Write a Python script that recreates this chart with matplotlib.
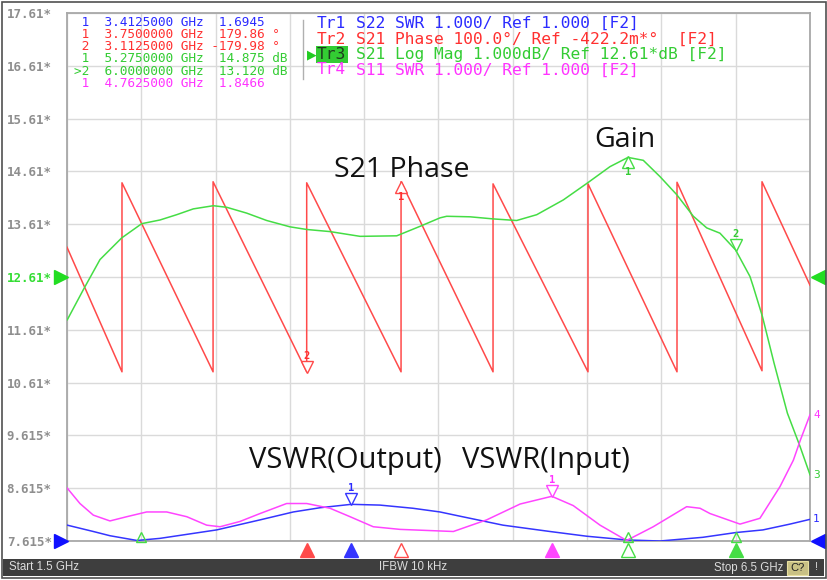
import matplotlib
matplotlib.use("Agg")
import matplotlib.pyplot as plt
from matplotlib.patches import Rectangle
from matplotlib.transforms import offset_copy, blended_transform_factory

# ---------------- data ----------------
f_start, f_stop = 1.5, 6.5
ytick_labels = ["7.615*", "8.615*", "9.615*", "10.61*", "11.61*", "12.61*",
                "13.61*", "14.61*", "15.61*", "16.61*", "17.61*"]

# Tr3 S21 Log Mag (dB)
gain_f = [1.502, 1.610, 1.722, 1.868, 2.003, 2.126, 2.238, 2.350, 2.485, 2.575,
          2.709, 2.844, 3.001, 3.113, 3.270, 3.472, 3.719, 3.876, 4.010, 4.055,
          4.212, 4.369, 4.526, 4.661, 4.840, 4.997, 5.154, 5.275, 5.378, 5.491,
          5.603, 5.715, 5.805, 5.894, 6.000, 6.096, 6.118, 6.180, 6.258, 6.348,
          6.433, 6.500]
gain_db = [11.80, 12.37, 12.94, 13.35, 13.62, 13.69, 13.79, 13.90, 13.96, 13.93,
           13.82, 13.68, 13.56, 13.51, 13.47, 13.38, 13.39, 13.57, 13.73, 13.76,
           13.75, 13.71, 13.68, 13.79, 14.07, 14.38, 14.70, 14.875, 14.82, 14.51,
           14.17, 13.76, 13.54, 13.44, 13.12, 12.62, 12.43, 11.86, 10.98, 10.03,
           9.40, 8.865]

# Tr2 S21 Phase (deg), wrapped sawtooth breakpoints
phase_f = [1.500, 1.870, 1.870, 2.483, 2.483, 3.113, 3.113, 3.748, 3.748,
           4.367, 4.367, 5.006, 5.006, 5.605, 5.605, 6.177, 6.177, 6.500]
phase_deg = [56, -180, 178, -180, 180, -180, 178, -180, 180,
             -180, 176, -180, 176, -180, 179, -178, 180, -16]

# Tr1 S22 SWR (output)
swr_out_f = [1.502, 1.677, 1.789, 1.971, 2.126, 2.507, 2.799, 3.023, 3.203, 3.4125,
             3.606, 3.828, 4.010, 4.144, 4.434, 4.750, 4.999, 5.268, 5.490, 5.779,
             6.001, 6.183, 6.365, 6.500]
swr_out = [1.30, 1.18, 1.10, 1.01, 1.05, 1.21, 1.40, 1.55, 1.63, 1.6945,
           1.68, 1.62, 1.55, 1.47, 1.30, 1.18, 1.09, 1.02, 1.00, 1.07,
           1.16, 1.21, 1.32, 1.41]

# Tr4 S11 SWR (input)
swr_in_f = [1.502, 1.587, 1.677, 1.789, 1.902, 2.036, 2.171, 2.306, 2.440, 2.530,
            2.664, 2.799, 2.978, 3.113, 3.270, 3.405, 3.561, 3.741, 4.010, 4.100,
            4.324, 4.549, 4.7625, 4.907, 5.087, 5.266, 5.445, 5.670, 5.760, 5.827,
            6.029, 6.163, 6.298, 6.388, 6.435, 6.500]
swr_in = [2.00, 1.71, 1.49, 1.38, 1.46, 1.55, 1.55, 1.46, 1.30, 1.27,
          1.37, 1.52, 1.71, 1.71, 1.62, 1.46, 1.27, 1.22, 1.19, 1.18,
          1.40, 1.70, 1.8466, 1.67, 1.30, 1.01, 1.27, 1.65, 1.62, 1.52,
          1.32, 1.43, 2.03, 2.53, 2.91, 3.39]

# marker table rows: (label, freq GHz, value text, unit, trace)
marker_rows = [
    (" 1", "3.4125000", "1.6945", "", "tr1"),
    (" 1", "3.7500000", "179.86", "°", "tr2"),
    (" 2", "3.1125000", "-179.98", "°", "tr2"),
    (" 1", "5.2750000", "14.875", "dB", "tr3"),
    (">2", "6.0000000", "13.120", "dB", "tr3"),
    (" 1", "4.7625000", "1.8466", "", "tr4"),
]
trace_lines = [
    ("Tr1", "S22 SWR 1.000/ Ref 1.000 [F2]", "tr1"),
    ("Tr2", "S21 Phase 100.0°/ Ref -422.2m*°  [F2]", "tr2"),
    ("Tr3", "S21 Log Mag 1.000dB/ Ref 12.61*dB [F2]", "tr3"),
    ("Tr4", "S11 SWR 1.000/ Ref 1.000 [F2]", "tr4"),
]
# on-trace markers: (trace, freq, value, label, style)
trace_markers = [
    ("tr3", 5.275, 14.875, "1", "up"),
    ("tr3", 6.000, 13.120, "2", "down"),
    ("tr2", 3.750, 179.86, "1", "up"),
    ("tr2", 3.1125, -179.98, "2", "down"),
    ("tr1", 3.4125, 1.6945, "1", "down"),
    ("tr4", 4.7625, 1.8466, "1", "down"),
]
# indicator triangles below grid: (trace, freq, filled)
bottom_markers = [("tr2", 3.1125, True), ("tr1", 3.4125, True), ("tr2", 3.750, False),
                  ("tr4", 4.7625, True), ("tr3", 5.275, False), ("tr3", 6.000, True)]
edge_markers_f = [2.0, 5.275, 6.0]

# ---------------- styling ----------------
colors = {"tr1": "#3535ff", "tr2": "#ff4a4a", "tr3": "#45dd45", "tr4": "#ff45ff"}
text_colors = {"tr1": "#2b2bff", "tr2": "#ff3030", "tr3": "#33cc33", "tr4": "#ff33ff"}

def to_div(trace, v):
    if trace == "tr3":
        return (v - 12.61) + 5.0
    if trace == "tr2":
        return (v + 0.4222) / 100.0 + 5.0
    return (v - 1.0) / 1.0

W, H = 827, 580
fig = plt.figure(figsize=(W / 100, H / 100), dpi=100)
fig.patch.set_facecolor("white")

L, R, T, B = 67, 810, 13, 541
ax = fig.add_axes([L / W, 1 - B / H, (R - L) / W, (B - T) / H])
ax.set_xlim(f_start, f_stop)
ax.set_ylim(0, 10)
ax.set_xticks([f_start + 0.5 * i for i in range(11)])
ax.set_yticks(range(11))
ax.set_xticklabels([])
ax.set_yticklabels(ytick_labels, family="DejaVu Sans Mono", fontsize=9,
                   color="#8e8e8e", fontweight="bold")
ax.get_yticklabels()[5].set_color("#33dd33")
ax.tick_params(length=0, pad=11)
ax.grid(True, color="#dadada", lw=1.0)
for s in ax.spines.values():
    s.set_color("#a8a8a8")
    s.set_linewidth(1.3)

# traces
ax.plot(swr_out_f, [to_div("tr1", v) for v in swr_out], color=colors["tr1"], lw=1.1, zorder=3)
ax.plot(phase_f, [to_div("tr2", v) for v in phase_deg], color=colors["tr2"], lw=1.1, zorder=3)
ax.plot(gain_f, [to_div("tr3", v) for v in gain_db], color=colors["tr3"], lw=1.1, zorder=3)
ax.plot(swr_in_f, [to_div("tr4", v) for v in swr_in], color=colors["tr4"], lw=1.1, zorder=3)

# on-trace markers
for tr, f, v, lab, style in trace_markers:
    y = to_div(tr, v)
    c = colors[tr]
    if style == "down":
        tt = offset_copy(ax.transData, fig=fig, x=0, y=5, units="dots")
        ax.plot([f], [y], marker="v", ms=8, mfc="white", mec=c, mew=1.0,
                transform=tt, zorder=5)
        ax.annotate(lab, (f, y), xytext=(0, 11), textcoords="offset pixels",
                    ha="center", va="bottom", fontsize=7.5, color=text_colors[tr],
                    family="DejaVu Sans Mono", fontweight="bold", zorder=6)
    else:
        tt = offset_copy(ax.transData, fig=fig, x=0, y=-5, units="dots")
        ax.plot([f], [y], marker="^", ms=8, mfc="white", mec=c, mew=1.0,
                transform=tt, zorder=5)
        ax.annotate(lab, (f, y), xytext=(0, -10), textcoords="offset pixels",
                    ha="center", va="top", fontsize=7.5, color=text_colors[tr],
                    family="DejaVu Sans Mono", fontweight="bold", zorder=6)

# bottom-edge markers inside grid
bt = blended_transform_factory(ax.transData, ax.transAxes)
for f in edge_markers_f:
    ax.plot([f], [0.008], marker="^", ms=7, mfc="none", mec=colors["tr3"], mew=1.0,
            transform=bt, clip_on=False, zorder=5)
# indicators below grid
for tr, f, filled in bottom_markers:
    c = colors[tr]
    ax.plot([f], [-0.017], marker="^", ms=9.5, mfc=c if filled else "white", mec=c,
            mew=1.0, transform=bt, clip_on=False, zorder=5)

# reference arrows on edges
ba = blended_transform_factory(ax.transAxes, ax.transData)
ax.plot([-0.0075], [to_div("tr3", 12.61)], marker=">", ms=10, color="#22dd22",
        transform=ba, clip_on=False, zorder=6)
ax.plot([-0.0075], [to_div("tr1", 1.0)], marker=">", ms=10, color="#1010ff",
        transform=ba, clip_on=False, zorder=6)
ax.plot([1.0105], [to_div("tr3", 12.61)], marker="<", ms=10, color="#22dd22",
        transform=ba, clip_on=False, zorder=6)
ax.plot([1.0105], [to_div("tr1", 1.0)], marker="<", ms=10, color="#1010ff",
        transform=ba, clip_on=False, zorder=6)

# trace end labels
ax.text(1.004, to_div("tr4", swr_in[-1]), "4", transform=ba, fontsize=8,
        color=text_colors["tr4"], va="center", ha="left", family="DejaVu Sans Mono")
ax.text(1.004, to_div("tr3", gain_db[-1]), "3", transform=ba, fontsize=8,
        color=text_colors["tr3"], va="center", ha="left", family="DejaVu Sans Mono")
ax.text(1.004, to_div("tr1", swr_out[-1]), "1", transform=ba, fontsize=8,
        color=text_colors["tr1"], va="center", ha="left", family="DejaVu Sans Mono")

def P(x, y):
    return x / W, 1 - y / H

# marker table
for i, (lab, fr, val, unit, tr) in enumerate(marker_rows):
    s = f"{lab}  {fr} GHz {val:>7} {unit}"
    fig.text(*P(73.5, 22.7 + 12.1 * i), s, family="DejaVu Sans Mono", fontsize=9.2,
             color=text_colors[tr], va="center", ha="left")

# trace list
fig.add_artist(plt.Line2D([303 / W, 303 / W], [1 - 20 / H, 1 - 79 / H],
                          color="#b0b0b0", lw=1.0))
rows_y = [23.5, 39.0, 54.5, 70.0]
for (name, rest, tr), yy in zip(trace_lines, rows_y):
    if tr == "tr3":
        fig.text(*P(317, yy), name, family="DejaVu Sans Mono", fontsize=11.7,
                 color="#1e3a1e", va="center", ha="left",
                 bbox=dict(boxstyle="square,pad=0.08", fc="#33cc33", ec="none"))
        fig.text(*P(307, yy), "▶", fontsize=9, color="#22cc22", va="center", ha="left")
    else:
        fig.text(*P(317, yy), name, family="DejaVu Sans Mono", fontsize=11.7,
                 color=text_colors[tr], va="center", ha="left")
    fig.text(*P(317 + 4 * 9.8, yy), rest, family="DejaVu Sans Mono", fontsize=11.7,
             color=text_colors[tr], va="center", ha="left")

# annotations
anno_font = "Open Sans"
fig.text(*P(334, 177), "S21 Phase", family=anno_font, fontsize=20.5, color="#111111",
         va="baseline", ha="left")
fig.text(*P(594, 147), "Gain", family=anno_font, fontsize=20.5, color="#111111",
         va="baseline", ha="left")
fig.text(*P(249, 468), "VSWR(Output)", family=anno_font, fontsize=21, color="#111111",
         va="baseline", ha="left")
fig.text(*P(462, 468), "VSWR(Input)", family=anno_font, fontsize=21, color="#111111",
         va="baseline", ha="left")

# status bar
fig.patches.append(Rectangle((3 / W, 1 - 576 / H), (824 - 3) / W, 17 / H,
                             transform=fig.transFigure, fc="#3e3e3e", ec="none"))
fig.text(*P(9, 567.5), "Start 1.5 GHz", family="Liberation Sans", fontsize=8.3,
         color="#dcdcdc", va="center", ha="left")
fig.text(*P(413, 567.5), "IFBW 10 kHz", family="Liberation Sans", fontsize=8.3,
         color="#dcdcdc", va="center", ha="center")
fig.text(*P(783, 567.5), "Stop 6.5 GHz", family="Liberation Sans", fontsize=8.3,
         color="#dcdcdc", va="center", ha="right")
fig.patches.append(Rectangle((787 / W, 1 - 575 / H), 21 / W, 14 / H,
                             transform=fig.transFigure, fc="#c9c184", ec="#e8e0a0", lw=0.8))
fig.text(*P(797.5, 568), "C?", family="Liberation Sans", fontsize=8, color="#222222",
         va="center", ha="center")
fig.text(*P(817, 567.5), "!", family="Liberation Sans", fontsize=8, color="#dcdcdc",
         va="center", ha="center")

# outer frame
fig.patches.append(Rectangle((1.5 / W, 1 - 578 / H), 824 / W, 576 / H,
                             transform=fig.transFigure, fc="none", ec="#505050", lw=1.2))

fig.savefig("out.png", dpi=100)
